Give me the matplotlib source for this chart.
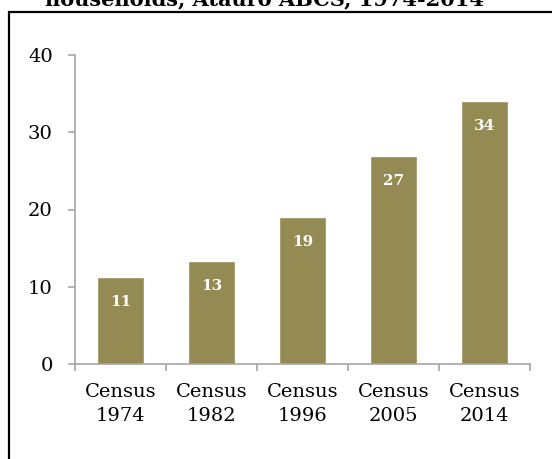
import matplotlib.pyplot as plt
from matplotlib.patches import Rectangle

# census rounds and share of households (%)
census = ['Census\n1974', 'Census\n1982', 'Census\n1996', 'Census\n2005', 'Census\n2014']
share = [11.1, 13.2, 18.9, 26.8, 33.9]
yticks = [0, 10, 20, 30, 40]

bar_color = '#948A54'
axis_color = '#A6A6A6'

plt.rcParams['font.family'] = ['DejaVu Serif']

fig = plt.figure(figsize=(5.52, 4.59), dpi=100)
ax = fig.add_axes([75 / 552, 1 - 364 / 459, 455 / 552, 309 / 459])

x = range(len(census))
ax.bar(x, share, width=0.5, color=bar_color, edgecolor='#A39B6A', linewidth=0.6, zorder=2)

for xi, v in zip(x, share):
    ax.annotate(f'{v:.0f}', xy=(xi, v), xytext=(0, -17), textcoords='offset points',
                ha='center', va='center', color='white', fontsize=11, fontweight='bold')

ax.set_xlim(-0.5, len(census) - 0.5)
ax.set_ylim(0, 40)
ax.set_yticks(yticks)
ax.set_xticks([i - 0.5 for i in range(len(census) + 1)], minor=False)
ax.set_xticklabels([])
ax.set_xticks(list(x), minor=True)
ax.set_xticklabels(census, minor=True, fontsize=14, linespacing=1.4)

for side in ['top', 'right']:
    ax.spines[side].set_visible(False)
for side in ['left', 'bottom']:
    ax.spines[side].set_color(axis_color)
    ax.spines[side].set_linewidth(1.2)

ax.tick_params(axis='y', direction='out', length=5, width=1.2, color=axis_color,
               labelsize=14, pad=11)
ax.tick_params(axis='x', which='major', direction='out', length=5, width=1.2, color=axis_color)
ax.tick_params(axis='x', which='minor', length=0, labelsize=14, pad=14)

# chart border, running off the right and bottom edges
fig.patches.append(Rectangle((8.5 / 552, -0.1), 1.2, 1 - 12 / 459 + 0.1,
                             transform=fig.transFigure, fill=False,
                             edgecolor='black', linewidth=1.6))

fig.text(0.48, 1 + 1 / 459, 'households, Atauro ABCS, 1974-2014', ha='center', va='center',
         fontsize=15, fontweight='bold')

fig.savefig('out.png', dpi=100)
